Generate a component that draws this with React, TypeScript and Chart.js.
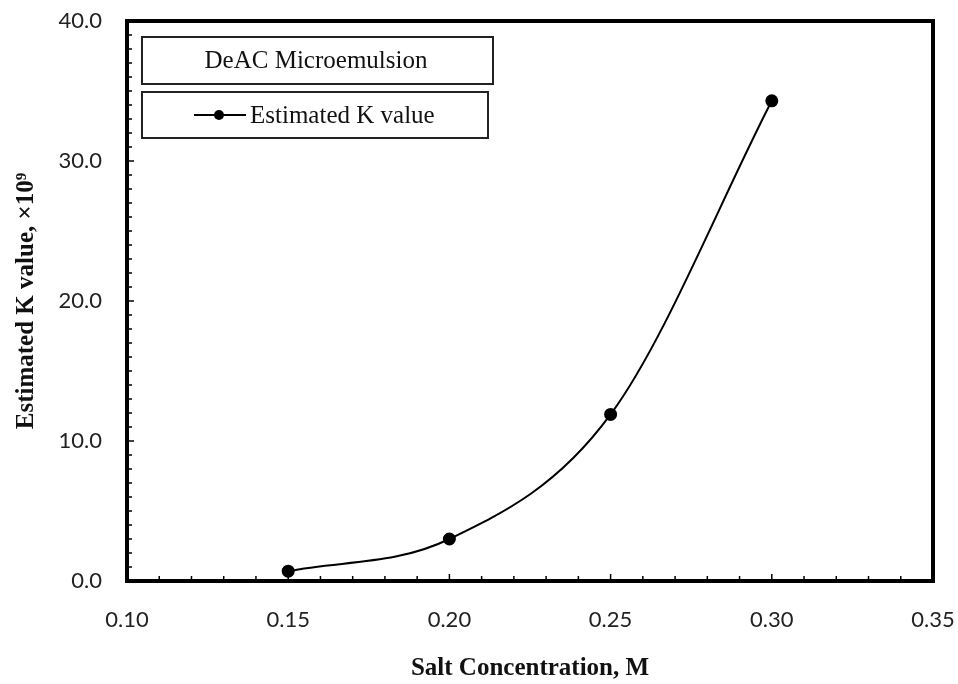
import React, { useEffect, useRef } from "react";
import { Chart, registerables } from "chart.js";

Chart.register(...registerables);

const saltConcentration = [0.15, 0.2, 0.25, 0.3];
const estimatedK = [0.7, 3.0, 11.9, 34.3];
const seriesLabel = "Estimated K value";
const systemLabel = "DeAC Microemulsion";
const xTitle = "Salt Concentration, M";
const yTitle = "Estimated K value, \u00d710\u2079";

const frameAndTicks = {
  id: "frameAndTicks",
  afterDatasetsDraw(chart: any) {
    const { ctx, chartArea: a, scales } = chart;
    const xs = scales.x;
    const ys = scales.y;
    ctx.save();
    ctx.strokeStyle = "#000";
    ctx.lineWidth = 1.5;
    for (let i = 0; i <= 25; i++) {
      const v = 0.1 + i * 0.01;
      const px = xs.getPixelForValue(v);
      const len = i % 5 === 0 ? 7 : 5;
      ctx.beginPath();
      ctx.moveTo(px, a.bottom);
      ctx.lineTo(px, a.bottom - len);
      ctx.stroke();
    }
    for (let i = 0; i <= 40; i++) {
      const py = ys.getPixelForValue(i);
      const len = i % 10 === 0 ? 7 : 5;
      ctx.beginPath();
      ctx.moveTo(a.left, py);
      ctx.lineTo(a.left + len, py);
      ctx.stroke();
    }
    ctx.lineWidth = 4;
    ctx.strokeRect(a.left, a.top, a.right - a.left, a.bottom - a.top);

    const bx = a.left + 15;
    const by = a.top + 16;
    ctx.lineWidth = 2;
    ctx.strokeStyle = "#222";
    ctx.strokeRect(bx, by, 351, 47);
    ctx.strokeRect(bx, by + 55, 346, 46);
    ctx.fillStyle = "#111";
    ctx.font = '25px "Liberation Serif"';
    ctx.textBaseline = "middle";
    ctx.textAlign = "center";
    ctx.fillText(systemLabel, bx + 174, by + 24);
    ctx.textAlign = "left";
    const ly = by + 55 + 23;
    ctx.lineWidth = 2;
    ctx.strokeStyle = "#000";
    ctx.beginPath();
    ctx.moveTo(bx + 52, ly);
    ctx.lineTo(bx + 104, ly);
    ctx.stroke();
    ctx.beginPath();
    ctx.arc(bx + 77, ly, 5, 0, Math.PI * 2);
    ctx.fillStyle = "#000";
    ctx.fill();
    ctx.fillStyle = "#111";
    ctx.fillText(seriesLabel, bx + 108, ly + 1);
    ctx.restore();
  },
};

export default function App() {
  const ref = useRef<HTMLCanvasElement>(null);
  useEffect(() => {
    if (!ref.current) return;
    const tickFont = { family: "Lato", size: 22 };
    const chart = new Chart(ref.current, {
      type: "scatter",
      data: {
        datasets: [
          {
            label: seriesLabel,
            data: saltConcentration.map((x, i) => ({ x, y: estimatedK[i] })),
            showLine: true,
            borderColor: "#000",
            backgroundColor: "#000",
            borderWidth: 2,
            pointRadius: 5.5,
            pointBackgroundColor: "#000",
            cubicInterpolationMode: "monotone",
          },
        ],
      },
      options: {
        animation: false,
        responsive: false,
        layout: { padding: { left: 0, top: 21, right: 25, bottom: 0 } },
        plugins: { legend: { display: false }, tooltip: { enabled: false } },
        scales: {
          x: {
            type: "linear",
            min: 0.1,
            max: 0.35,
            grid: { display: false, drawTicks: false },
            border: { display: false },
            ticks: {
              stepSize: 0.05,
              padding: 26,
              color: "#222",
              font: tickFont,
              callback: (v: any) => Number(v).toFixed(2),
            },
            title: {
              display: true,
              text: xTitle,
              color: "#111",
              font: { family: "Liberation Serif", size: 25, weight: "bold" },
              padding: { top: 12, bottom: 0 },
            },
            afterFit: (s: any) => {
              s.height = 103;
              s.paddingLeft = 0;
              s.paddingRight = 0;
            },
          },
          y: {
            type: "linear",
            min: 0,
            max: 40,
            grid: { display: false, drawTicks: false },
            border: { display: false },
            ticks: {
              stepSize: 10,
              padding: 25,
              color: "#222",
              font: tickFont,
              callback: (v: any) => Number(v).toFixed(1),
            },
            title: {
              display: true,
              text: yTitle,
              color: "#111",
              font: { family: "Liberation Serif", size: 25, weight: "bold" },
              padding: { top: 12, bottom: 0 },
            },
            afterFit: (s: any) => {
              s.width = 127;
              s.paddingTop = 0;
              s.paddingBottom = 0;
            },
          },
        },
      },
      plugins: [frameAndTicks],
    });
    return () => chart.destroy();
  }, []);
  return (
    <div style={{ position: "fixed", left: 0, top: 0, width: 958, height: 684, background: "#fff" }}>
      <canvas ref={ref} width={958} height={684} style={{ display: "block" }} />
    </div>
  );
}
